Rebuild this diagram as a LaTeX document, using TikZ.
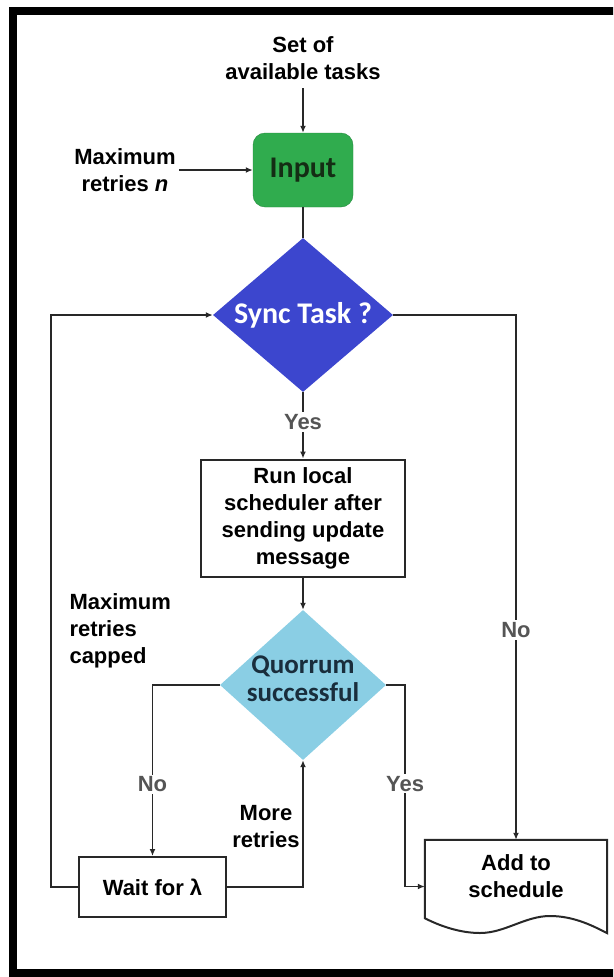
\documentclass[tikz,border=0pt]{standalone}
\usepackage{fontspec}
\setmainfont{Liberation Sans}
\newfontfamily\carlito{Carlito}
\usetikzlibrary{shapes.geometric,arrows.meta}
\definecolor{inputgreen}{RGB}{48,172,78}
\definecolor{syncblue}{RGB}{60,70,206}
\definecolor{quorumblue}{RGB}{138,206,228}
\definecolor{linegray}{RGB}{40,40,40}
\definecolor{labelgray}{RGB}{85,85,85}

\begin{document}
\begin{tikzpicture}[x=1pt,y=-1pt,
	every node/.style={font=\fontsize{22}{27}\selectfont\bfseries, align=center},
	flow/.style={line width=1.8pt, draw=linegray, -{Latex[length=7pt,width=6pt]}},
	plain/.style={line width=1.8pt, draw=linegray},
	branch/.style={fill=white, text=labelgray, inner sep=2pt},
	procbox/.style={draw=linegray, line width=2pt, inner sep=0pt},
	bigtext/.style={font=\carlito\fontsize{30}{30}\selectfont\bfseries}]

	\useasboundingbox (0,0) rectangle (613,977);
	% outer frame, cut off on the right
	\begin{scope}
		\clip (0,0) rectangle (613,977);
		\draw[line width=8pt] (13,10.5) rectangle (640,973);
	\end{scope}

	% nodes
	\node (tasks) at (303,58) {Set of\\available tasks};
	\node[draw=inputgreen!80!black, fill=inputgreen, rounded corners=12pt, minimum width=100pt, minimum height=74pt, text={rgb,255:red,20;green,45;blue,20}, bigtext] (input) at (303,170) {Input};
	\node (maxin) at (125,170) {Maximum\\retries \textit{n}};
	\node[diamond, aspect=1.17, fill=syncblue, inner sep=0pt, minimum width=180pt, minimum height=154pt, text=white, bigtext] (sync) at (303,315) {Sync Task ?};
	\node[procbox, minimum width=204pt, minimum height=117pt] (run) at (303,518) {Run local\\scheduler after\\sending update\\message};
	\node[diamond, fill=quorumblue, inner sep=0pt, minimum width=166pt, minimum height=150pt] (quorum) at (303,685) {};
	\node[text={rgb,255:red,25;green,45;blue,60}, font=\carlito\fontsize{27}{28}\selectfont\bfseries] (quorumtxt) at (303,679) {Quorrum\\successful};
	\node[procbox, minimum width=147pt, minimum height=60pt] (wait) at (152.5,887) {Wait for λ};
	\node[minimum width=182pt, minimum height=93pt, inner sep=0pt] (add) at (516,886.5) {};
	\node (addtxt) at (516,876) {Add to\\schedule};
	\draw[line width=2pt, draw=linegray] ([yshift=15pt]add.south west) -- (add.north west) -- (add.north east) -- (add.south east)
		.. controls (595,927) and (575,916) .. (550,916)
		.. controls (525,916) and (505,933) .. (480,933)
		.. controls (460,933) and (440,926) .. cycle;

	% side labels
	\node[anchor=west, align=left] (capped) at (66,631) {Maximum\\retries\\capped};
	\node (more) at (266,827) {More\\retries};

	% connectors
	\draw[flow, shorten <=5pt] (tasks.south) -- (input.north);
	\draw[flow] (maxin.east) -- (input.west);
	\draw[plain] (input.south) -- (sync.north);
	\draw[flow] (sync.south) -- node[branch, pos=0.45] {Yes} (run.north);
	\draw[flow] (sync.east) -| node[branch, pos=0.8] {No} (add.north);
	\draw[flow] (run.south) -- (quorum.north);
	\draw[flow] (quorum.west) -| node[branch, pos=0.79] {No} (wait.north);
	\draw[flow] (wait.east) -| (quorum.south);
	\draw[flow] (quorum.east) -- ++(19,0) |- node[branch, pos=0.245] {Yes} (add.west);
	\draw[flow] (wait.west) -- ++(-27,0) |- (sync.west);
\end{tikzpicture}
\end{document}
